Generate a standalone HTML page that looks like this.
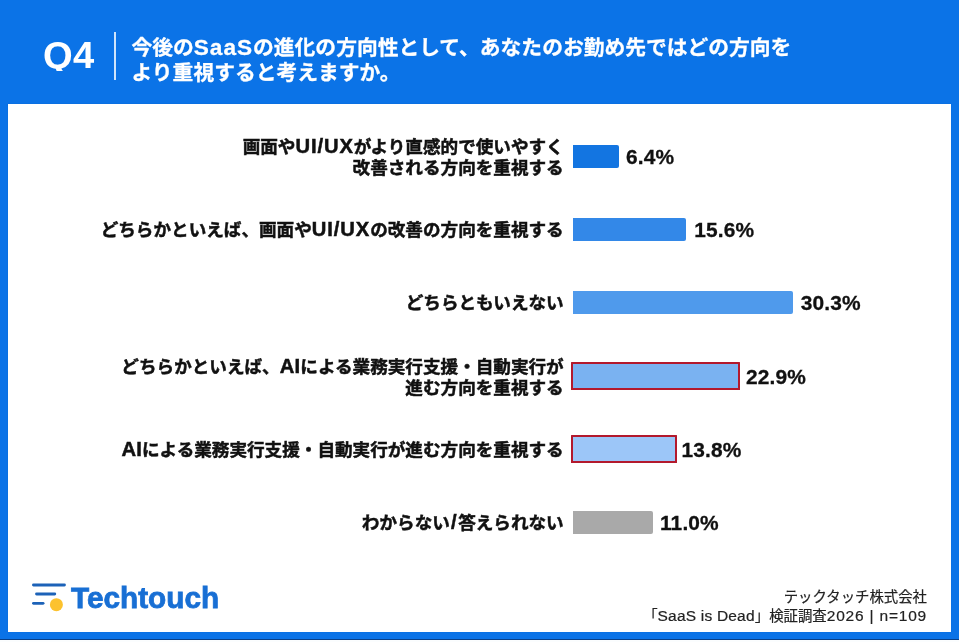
<!DOCTYPE html>
<html lang="ja">
<head>
<meta charset="utf-8">
<title>Q4</title>
<style>
html,body{margin:0;padding:0;}
body{width:959px;height:642px;overflow:hidden;background:#fbfdfe;position:relative;font-family:"Liberation Sans","Noto Sans CJK JP",sans-serif;}
#frame{position:absolute;left:0;top:0;width:959px;height:639px;background:#0b73e7;}
#darkline{position:absolute;left:0;top:639px;width:959px;height:1.2px;background:#0a3f86;}
#panel{position:absolute;left:8px;top:103.5px;width:943px;height:528px;background:#fff;box-shadow:0 0 1.5px 0.3px rgba(8,55,135,.6);}
#q{position:absolute;left:43.1px;top:35.7px;height:35.2px;overflow:hidden;font-size:36.4px;font-weight:bold;color:#fff;line-height:40px;letter-spacing:0.3px;transform:scaleX(1.05);transform-origin:0 0;}
#sep{position:absolute;left:114.3px;top:31.7px;width:2.2px;height:48.4px;background:#cfe4fb;}
#title{-webkit-text-stroke:0.3px #fff;position:absolute;left:131.5px;top:34.9px;font-size:20.77px;font-weight:bold;color:#fff;line-height:25.5px;white-space:nowrap;}
.en,.nm{line-height:0;}
#title .en{font-size:22.6px;letter-spacing:1px;}
.lbl{position:absolute;-webkit-text-stroke:0.5px #111;margin-top:1.1px;right:395.3px;text-align:right;font-size:17.6px;font-weight:bold;color:#111;line-height:21px;white-space:nowrap;}
.lbl .en{font-size:20.2px;letter-spacing:0.9px;}
.lbl .ai{letter-spacing:0.2px;}
.lbl .sl{padding:0 0.7px 0 1.1px;}
.bar{position:absolute;left:572.5px;height:23px;border-radius:0 2px 2px 0;}
.hl{box-sizing:border-box;border:2.7px solid #b3192d;border-radius:0.5px;left:571px;height:28px;}
.pct{position:absolute;letter-spacing:0.15px;margin-top:0.8px;-webkit-text-stroke:0.3px #111;font-size:20.9px;font-weight:bold;color:#111;line-height:24px;white-space:nowrap;}
#logo{position:absolute;left:71.3px;top:580.7px;font-size:30.2px;font-weight:bold;color:#186fd4;line-height:34px;-webkit-text-stroke:0.8px #186fd4;transform:scaleX(0.985);transform-origin:0 0;}
#foot{position:absolute;-webkit-text-stroke:0.2px #222;right:32px;top:587.8px;text-align:right;font-size:14.4px;color:#222;line-height:19.3px;white-space:nowrap;}
#foot .en{font-size:15.5px;letter-spacing:0.2px;}
#foot .nm{font-size:15.5px;letter-spacing:0.8px;}
</style>
</head>
<body>
<div id="frame"></div>
<div id="darkline"></div>
<div id="panel"></div>
<div id="q">Q4</div>
<div id="sep"></div>
<div id="title">今後の<span class="en">SaaS</span>の進化の方向性として、あなたのお勤め先ではどの方向を<br>より重視すると考えますか。</div>

<div class="lbl" style="top:135.5px">画面や<span class="en">UI/UX</span>がより直感的で使いやすく<br>改善される方向を重視する</div>
<div class="bar" style="top:144.6px;width:46.5px;background:#1375e1"></div>
<div class="pct" style="left:626px;top:144px">6.4%</div>

<div class="lbl" style="top:219px">どちらかといえば、画面や<span class="en">UI/UX</span>の改善の方向を重視する</div>
<div class="bar" style="top:217.9px;width:113.7px;background:#3388e8"></div>
<div class="pct" style="left:694.2px;top:217px">15.6%</div>

<div class="lbl" style="top:292px">どちらともいえない</div>
<div class="bar" style="top:291px;width:220.8px;background:#4f9aec"></div>
<div class="pct" style="left:800.8px;top:290px">30.3%</div>

<div class="lbl" style="top:355.5px">どちらかといえば、<span class="en ai">AI</span>による業務実行支援・自動実行が<br>進む方向を重視する</div>
<div class="bar hl" style="top:362.2px;width:168.7px;background:#7ab2f1"></div>
<div class="pct" style="left:746px;top:364px">22.9%</div>

<div class="lbl" style="top:439px"><span class="en ai">AI</span>による業務実行支援・自動実行が進む方向を重視する</div>
<div class="bar hl" style="top:435.4px;width:106.1px;background:#9cc6f8"></div>
<div class="pct" style="left:681.5px;top:437px">13.8%</div>

<div class="lbl" style="top:512px">わからない<span class="en sl">/</span>答えられない</div>
<div class="bar" style="top:511px;width:80.3px;background:#a9a9a9"></div>
<div class="pct" style="left:660px;top:510px">11.0%</div>

<svg id="icon" style="position:absolute;left:25px;top:572px" width="60" height="50" viewBox="0 0 60 50">
<rect x="7" y="11.6" width="33.9" height="2.9" rx="1.45" fill="#1c62b8"/>
<rect x="10.1" y="20.6" width="21.1" height="2.9" rx="1.45" fill="#1c62b8"/>
<rect x="7" y="29.9" width="12.5" height="2.9" rx="1.45" fill="#1c62b8"/>
<circle cx="31.4" cy="32.7" r="6.5" fill="#fcc22e"/>
</svg>
<div id="logo">Techtouch</div>
<div id="foot">テックタッチ株式会社<br>「<span class="en">SaaS is Dead</span>」検証調査<span class="nm">2026 | n=109</span></div>
</body>
</html>
